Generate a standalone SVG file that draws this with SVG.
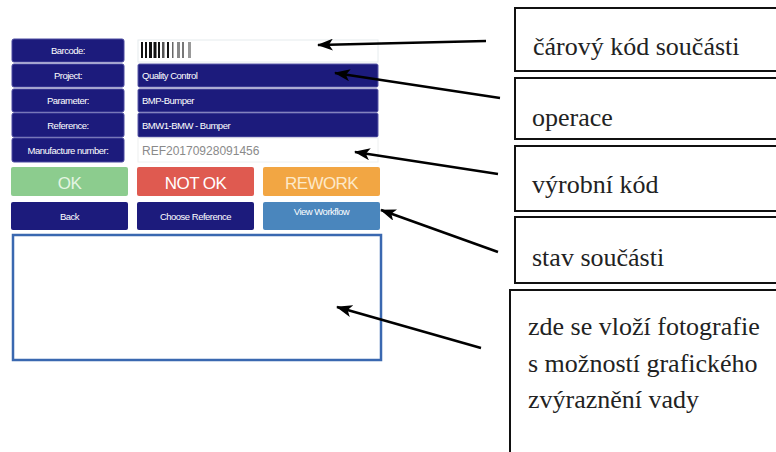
<svg xmlns="http://www.w3.org/2000/svg" width="776" height="452" viewBox="0 0 776 452">
<style>
.lbl{fill:#1c1b7c;stroke:#4a4aa0;stroke-width:1}
.fld{fill:#1c1b7c;stroke:#5a5aa8;stroke-width:1}
.lt{font-family:"Liberation Sans",Arial,sans-serif;font-size:9.5px;fill:#ffffff;text-anchor:middle;letter-spacing:-0.5px}
.ft{font-family:"Liberation Sans",Arial,sans-serif;font-size:9.5px;fill:#ffffff;letter-spacing:-0.5px}
.bt{font-family:"Liberation Sans",Arial,sans-serif;font-size:17px;text-anchor:middle;letter-spacing:-0.6px}
.box{fill:#ffffff;stroke:#111111;stroke-width:2}
.note{font-family:"Liberation Serif","Times New Roman",serif;font-size:26px;fill:#222222}
.arr{stroke:#000000;stroke-width:2.5;fill:none;marker-end:url(#ah)}
</style>
<defs>
<marker id="ah" markerUnits="userSpaceOnUse" markerWidth="16" markerHeight="12" refX="15" refY="6" orient="auto">
<path d="M0,0 L16,6 L0,12 L4,6 Z" fill="#000000"/>
</marker>
</defs>
<rect width="776" height="452" fill="#ffffff"/>
<g id="labels">
<rect class="lbl" x="12" y="39" width="112" height="23" rx="2"/>
<text class="lt" x="68" y="54">Barcode:</text>
<rect class="lbl" x="12" y="64" width="112" height="23" rx="2"/>
<text class="lt" x="68" y="79">Project:</text>
<rect class="lbl" x="12" y="89" width="112" height="23" rx="2"/>
<text class="lt" x="68" y="104">Parameter:</text>
<rect class="lbl" x="12" y="113" width="112" height="24" rx="2"/>
<text class="lt" x="68" y="129">Reference:</text>
<rect class="lbl" x="12" y="138" width="112" height="24" rx="2"/>
<text class="lt" x="68" y="154">Manufacture number:</text>
</g>
<g id="fields">
<rect x="138" y="40" width="240" height="22" fill="#ffffff" stroke="#e6ecee" stroke-width="1"/>
<g id="barcode" fill="#111111">
<rect x="141" y="42" width="2" height="16"/>
<rect x="145" y="42" width="2" height="16"/>
<rect x="149" y="42" width="3" height="16"/>
<rect x="153.5" y="42" width="3" height="16"/>
<rect x="158" y="42" width="2" height="16"/>
<rect x="162" y="42" width="2.5" height="16" fill="#555555"/>
<rect x="167" y="42" width="2" height="16"/>
<rect x="172" y="42" width="1.5" height="16" fill="#666666"/>
<rect x="177" y="42" width="3" height="16" fill="#888888"/>
<rect x="182" y="42" width="2" height="16" fill="#777777"/>
<rect x="188" y="42" width="3" height="16" fill="#999999"/>
</g>
<rect class="fld" x="138" y="64" width="240" height="23" rx="1.5"/>
<text class="ft" x="142" y="79">Quality Control</text>
<rect class="fld" x="138" y="89" width="240" height="23" rx="1.5"/>
<text class="ft" x="142" y="104">BMP-Bumper</text>
<rect class="fld" x="138" y="113" width="240" height="24" rx="1.5"/>
<text class="ft" x="142" y="129">BMW1-BMW - Bumper</text>
<rect x="138" y="138" width="240" height="24" fill="#ffffff" stroke="#eef0f0" stroke-width="1"/>
<text x="142" y="155" font-family="'Liberation Sans',Arial,sans-serif" font-size="12" fill="#8a8a8a">REF20170928091456</text>
</g>
<g id="status-buttons">
<rect x="11" y="167" width="117" height="29" rx="2" fill="#8ccc8e"/>
<text class="bt" x="69.5" y="189" fill="#e4f5e2">OK</text>
<rect x="137" y="167" width="117" height="29" rx="2" fill="#df5a50"/>
<text class="bt" x="195.5" y="189" fill="#ffffff">NOT OK</text>
<rect x="263" y="167" width="117" height="29" rx="2" fill="#f2a643"/>
<text class="bt" x="321.5" y="189" fill="#fde9c9">REWORK</text>
</g>
<g id="nav-buttons">
<rect x="11" y="202" width="117" height="28" rx="2" fill="#1c1b7c"/>
<text class="lt" x="69.5" y="220">Back</text>
<rect x="137" y="202" width="117" height="28" rx="2" fill="#1c1b7c"/>
<text class="lt" x="195.5" y="220">Choose Reference</text>
<rect x="263" y="202" width="117" height="28" rx="2" fill="#4a86bd"/>
<text class="lt" x="321.5" y="215">View Workflow</text>
</g>
<g id="photo">
<rect x="13" y="235" width="368" height="125" fill="#ffffff" stroke="#3a68b0" stroke-width="2.5"/>
</g>
<g id="note-barcode">
<rect class="box" x="515" y="8" width="270" height="63"/>
<text class="note" x="533" y="55">čárový kód součásti</text>
</g>
<g id="note-operace">
<rect class="box" x="515" y="78" width="270" height="61"/>
<text class="note" x="532" y="126">operace</text>
</g>
<g id="note-vyrobni">
<rect class="box" x="515" y="146" width="270" height="65"/>
<text class="note" x="532" y="193">výrobní kód</text>
</g>
<g id="note-stav">
<rect class="box" x="515" y="217" width="270" height="66"/>
<text class="note" x="532" y="266">stav součásti</text>
</g>
<g id="note-foto">
<rect class="box" x="510" y="290" width="280" height="180"/>
<text class="note" x="528" y="335">zde se vloží fotografie</text>
<text class="note" x="528" y="372">s možností grafického</text>
<text class="note" x="528" y="408">zvýraznění vady</text>
</g>
<g id="connectors">
<line class="arr" x1="486" y1="41" x2="318" y2="45"/>
<line class="arr" x1="500" y1="98" x2="335" y2="73"/>
<line class="arr" x1="498" y1="174" x2="355" y2="152"/>
<line class="arr" x1="498" y1="252" x2="381" y2="210"/>
<line class="arr" x1="481" y1="348" x2="337" y2="307"/>
</g>
</svg>
